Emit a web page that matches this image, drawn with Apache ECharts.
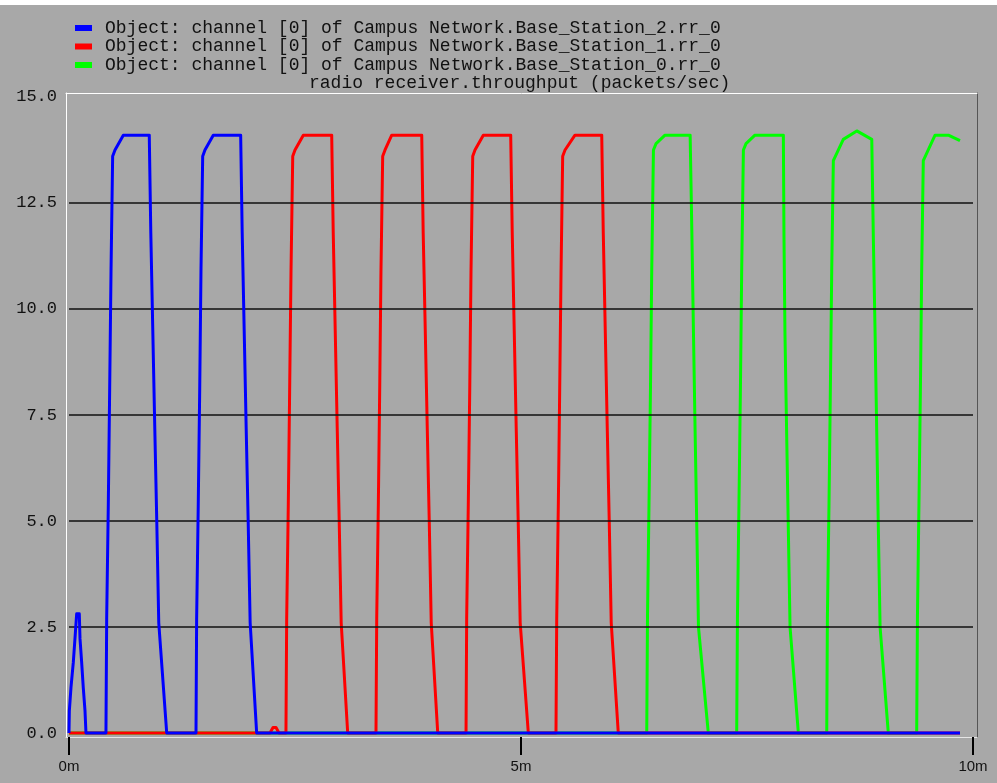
<!DOCTYPE html>
<html>
<head>
<meta charset="utf-8">
<script src="https://cdn.jsdelivr.net/npm/echarts@6/dist/echarts.min.js"></script>
<style>
html,body{margin:0;padding:0;background:#fff;}
#c{width:997px;height:783px;}
</style>
</head>
<body>
<div id="c"></div>
<script>
// ---- data (time in minutes, throughput in packets/sec) ----
const legendNames = [
  "Object: channel [0] of Campus Network.Base_Station_2.rr_0",
  "Object: channel [0] of Campus Network.Base_Station_1.rr_0",
  "Object: channel [0] of Campus Network.Base_Station_0.rr_0"
];
const chartTitle = "radio receiver.throughput (packets/sec)";
const xTickValues = [0, 5, 10];
const yTickValues = [0, 2.5, 5, 7.5, 10, 12.5, 15];
const gridValues = [2.5, 5, 7.5, 10, 12.5];

const blueData = [
  [0,0],[0.004,0.53],[0.022,1.07],[0.048,1.67],[0.066,2.22],[0.085,2.81],[0.114,2.81],[0.122,2.22],[0.140,1.67],[0.158,1.07],[0.177,0.53],[0.188,0],
  [0.409,0],[0.417,2.7],[0.435,5.4],[0.450,8.1],[0.465,10.9],[0.483,13.6],[0.509,13.75],[0.601,14.1],[0.888,14.1],[0.905,11.8],[0.927,9.5],[0.949,7.2],[0.971,5.0],[0.993,2.6],[1.081,0],
  [1.405,0],[1.412,2.7],[1.430,5.4],[1.446,8.1],[1.460,10.9],[1.479,13.6],[1.504,13.75],[1.596,14.1],[1.899,14.1],[1.916,11.8],[1.938,9.5],[1.960,7.2],[1.982,5.0],[2.004,2.6],[2.076,0],
  [9.856,0]
];
const redData = [
  [0,0],[2.223,0],[2.257,0.13],[2.290,0.13],[2.323,0],
  [2.400,0],[2.408,2.7],[2.426,5.4],[2.441,8.1],[2.456,10.9],[2.475,13.6],[2.500,13.75],[2.592,14.1],[2.906,14.1],[2.923,11.8],[2.945,9.5],[2.967,7.2],[2.989,5.0],[3.011,2.6],[3.083,0],
  [3.396,0],[3.404,2.7],[3.422,5.4],[3.437,8.1],[3.451,10.9],[3.470,13.6],[3.496,13.75],[3.570,14.1],[3.902,14.1],[3.918,11.8],[3.941,9.5],[3.963,7.2],[3.985,5.0],[4.007,2.6],[4.079,0],
  [4.392,0],[4.399,2.7],[4.417,5.4],[4.433,8.1],[4.447,10.9],[4.466,13.6],[4.491,13.75],[4.583,14.1],[4.886,14.1],[4.903,11.8],[4.925,9.5],[4.947,7.2],[4.969,5.0],[4.991,2.6],[5.081,0],
  [5.387,0],[5.395,2.7],[5.413,5.4],[5.428,8.1],[5.443,10.9],[5.461,13.6],[5.487,13.75],[5.597,14.1],[5.893,14.1],[5.910,11.8],[5.932,9.5],[5.954,7.2],[5.976,5.0],[5.998,2.6],[6.076,0],
  [9.856,0]
];
const greenData = [
  [0,0],
  [6.391,0],[6.399,2.7],[6.416,5.4],[6.432,8.1],[6.446,10.9],[6.465,13.75],[6.494,13.9],[6.593,14.1],[6.871,14.1],[6.890,11.8],[6.908,9.4],[6.926,7.1],[6.945,4.8],[6.963,2.5],[7.072,0],
  [7.386,0],[7.394,2.7],[7.411,5.4],[7.427,8.1],[7.441,10.9],[7.460,13.75],[7.489,13.9],[7.588,14.1],[7.902,14.1],[7.909,11.7],[7.920,9.4],[7.939,7.0],[7.957,4.8],[7.976,2.5],[8.068,0],
  [8.382,0],[8.389,2.7],[8.407,5.4],[8.422,8.1],[8.437,10.9],[8.455,13.5],[8.565,14.0],[8.714,14.2],[8.880,14.0],[8.898,11.6],[8.917,9.4],[8.935,7.1],[8.953,4.8],[8.972,2.5],[9.063,0],
  [9.377,0],[9.385,2.7],[9.402,5.4],[9.418,8.1],[9.432,10.9],[9.450,13.5],[9.580,14.1],[9.727,14.1],[9.856,13.97]
];
const seriesColors = ['#0000ff', '#ff0000', '#00ff00'];

// ---- chart ----
const chart = echarts.init(document.getElementById('c'), null, {renderer: 'canvas'});
const MONO = '"Liberation Mono", "DejaVu Sans Mono", monospace';
const X_MIN = -0.033, X_MAX = 10.044, Y_MIN = -0.094, Y_MAX = 15.094;

function lineSeries(name, data, color, z) {
  return {
    name: name, type: 'line', data: data, z: z,
    symbol: 'none', smooth: false, animation: false,
    lineStyle: {color: color, width: 3, join: 'round'},
    itemStyle: {color: color},
    emphasis: {disabled: true}
  };
}

chart.setOption({
  backgroundColor: '#a8a8a8',
  animation: false,
  graphic: [{
    type: 'rect', left: 0, top: 0, z: 100,
    shape: {width: 997, height: 5},
    style: {fill: '#ffffff'}
  }],
  title: {
    text: chartTitle, left: 309, top: 74, padding: 0,
    textStyle: {fontFamily: MONO, fontSize: 18, fontWeight: 'normal', color: '#111'}
  },
  legend: {
    data: legendNames, orient: 'vertical', left: 75, top: 19, padding: 0,
    itemWidth: 17, itemHeight: 6, itemGap: 0.5, icon: 'rect',
    selectedMode: false,
    textStyle: {fontFamily: MONO, fontSize: 18, color: '#111', lineHeight: 18, padding: [0, 0, 0, 8]}
  },
  grid: {left: 66, right: 20, top: 93, bottom: 46, containLabel: false},
  xAxis: [{
    type: 'value', min: X_MIN, max: X_MAX, position: 'bottom',
    axisLine: {show: true, onZero: false, lineStyle: {color: '#e6e6e6', width: 1}},
    axisTick: {show: true, customValues: xTickValues, length: 18, lineStyle: {color: '#000', width: 2}},
    axisLabel: {show: true, customValues: xTickValues, margin: 22,
      formatter: v => Math.round(v) + 'm',
      fontFamily: '"Liberation Sans", Arial, sans-serif', fontSize: 15, color: '#111'},
    splitLine: {show: false}
  }, {
    type: 'value', min: X_MIN, max: X_MAX, position: 'top',
    axisLine: {show: true, onZero: false, lineStyle: {color: '#ffffff', width: 1}},
    axisTick: {show: false}, axisLabel: {show: false}, splitLine: {show: false}
  }],
  yAxis: [{
    type: 'value', min: Y_MIN, max: Y_MAX, position: 'left',
    axisLine: {show: true, onZero: false, lineStyle: {color: '#ffffff', width: 1}},
    axisTick: {show: false},
    axisLabel: {show: true, customValues: yTickValues, margin: 9,
      formatter: v => v.toFixed(1),
      fontFamily: MONO, fontSize: 17, color: '#111'},
    splitLine: {show: false}
  }, {
    type: 'value', min: Y_MIN, max: Y_MAX, position: 'right',
    axisLine: {show: true, onZero: false, lineStyle: {color: '#555555', width: 1}},
    axisTick: {show: false}, axisLabel: {show: false}, splitLine: {show: false}
  }],
  series: [
    lineSeries(legendNames[0], blueData, seriesColors[0], 5),
    lineSeries(legendNames[1], redData, seriesColors[1], 4),
    lineSeries(legendNames[2], greenData, seriesColors[2], 3),
    {
      type: 'line', data: [], z: 1, silent: true, animation: false,
      markLine: {
        silent: true, symbol: 'none', animation: false,
        label: {show: false},
        lineStyle: {color: '#111', width: 1.5, type: 'solid'},
        data: gridValues.map(v => [{coord: [xTickValues[0], v]}, {coord: [xTickValues[2], v]}])
      }
    }
  ]
});
</script>
</body>
</html>
